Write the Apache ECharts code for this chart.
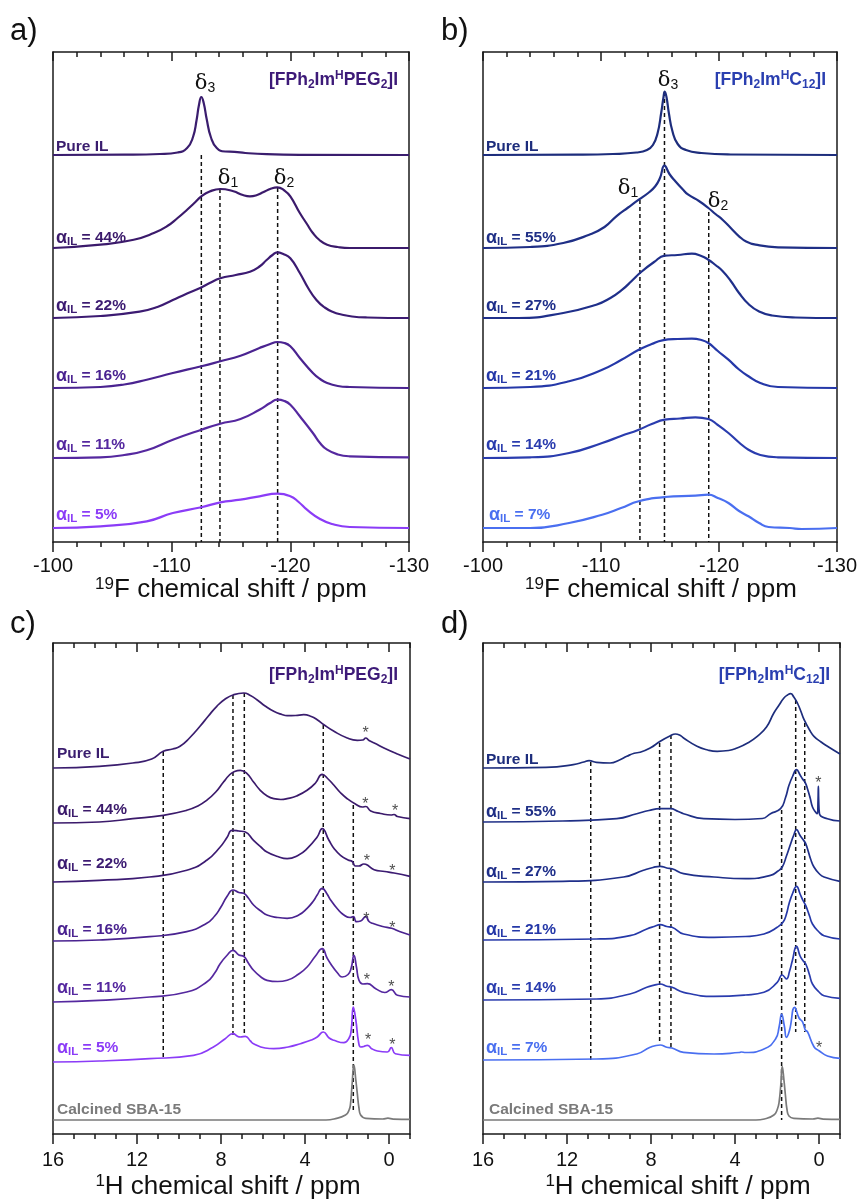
<!DOCTYPE html>
<html>
<head>
<meta charset="utf-8">
<title>NMR spectra</title>
<script src="https://cdn.jsdelivr.net/npm/echarts@6.0.0/dist/echarts.min.js"></script>
<style>
  html, body { margin: 0; padding: 0; background: #fff; }
  #main { width: 860px; height: 1200px; }
</style>
</head>
<body>
<div id="main"></div>
<script>
// ---- panel a: 19F, [FPh2ImHPEG2]I  ([ppm, intensity above baseline]) ----
var a_names = ['Pure IL', '44%', '22%', '16%', '11%', '5%'];
var a_offsets = [387, 294, 224, 154, 84, 14];
var a_pure = [[-100,0],[-106,0.3],[-109,1],[-110.5,2.5],[-111.3,7],[-111.8,18],[-112.1,35],[-112.3,50],[-112.5,58],[-112.7,52],[-112.95,36],[-113.3,18],[-113.8,7],[-114.5,3.5],[-115.3,3.2],[-116.2,2],[-118,0.8],[-121,0.2],[-130,0]];
var a_44 = [[-100,0],[-104,3.3],[-106.8,8.3],[-108.5,15],[-109.6,21.7],[-110.5,30],[-111.3,38.3],[-112,46],[-112.5,51.7],[-113.2,56.5],[-114.1,59],[-115.2,56.7],[-116,53],[-116.6,51.7],[-117.2,53],[-117.7,55.7],[-118.4,59.5],[-118.9,60.7],[-119.5,57.5],[-120,51.7],[-120.8,35],[-121.4,24],[-121.9,15],[-122.5,7.5],[-123.1,3.3],[-124,1],[-125,0],[-130,0]];
var a_22 = [[-100,0],[-104,2],[-107.3,6.3],[-108.8,11],[-110.1,18],[-111.3,24.5],[-112.4,30],[-113.2,35],[-114.1,39.7],[-115.4,43],[-116.6,46.3],[-117.4,51.5],[-118,58],[-118.5,63],[-118.9,65.7],[-119.4,64],[-120,59.7],[-120.8,45],[-121.5,30],[-122.2,18],[-122.9,10.5],[-123.6,6],[-124.3,3.5],[-125.2,1.5],[-126.5,0.5],[-130,0]];
var a_16 = [[-100,0],[-104,1],[-106,3.5],[-107.9,8.3],[-110.1,15],[-112.5,21.7],[-114.1,26.7],[-115.8,32.3],[-117.4,40],[-118.3,44],[-118.9,46],[-119.5,45],[-120,41.7],[-120.8,30],[-121.9,15],[-122.5,9],[-123.1,5],[-124,2],[-125,1],[-130,0]];
var a_11 = [[-100,0],[-104,0.7],[-106,3],[-107.9,7.7],[-110.1,18.3],[-112.5,28.3],[-114.1,34.3],[-115.8,39],[-117.4,48.3],[-118.3,55],[-118.9,58.3],[-119.5,57],[-120,53.3],[-120.8,41.7],[-121.9,25],[-122.5,15],[-123.1,8.3],[-124,3.5],[-125,1.7],[-130,0.7]];
var a_5 = [[-100,0],[-104,1.7],[-107.9,6.7],[-110.1,15],[-112.5,20.7],[-114.1,25.7],[-115.8,28.3],[-117.4,31.7],[-118.9,34.3],[-120,31.7],[-120.7,26],[-121.4,18.3],[-122.5,9],[-123.5,4],[-125,1],[-130,0]];
var a_dash = [[-112.5, 387, 0], [-114.07, 353, 0], [-118.93, 354, 0]];

// ---- panel b: 19F, [FPh2ImHC12]I ----
var b_names = ['Pure IL', '55%', '27%', '21%', '14%', '7%'];
var b_offsets = [387, 294, 224, 154, 84, 14];
var b_pure = [[-100,0],[-108,0.3],[-111,1],[-113,2.5],[-113.9,5],[-114.4,10],[-114.8,22],[-115.1,42],[-115.3,58],[-115.4,63.3],[-115.55,58],[-115.75,42],[-116.05,24],[-116.5,11],[-117.2,5],[-118.5,2],[-121,0.5],[-130,0]];
var b_55 = [[-100,0],[-104,1],[-106.8,5],[-109,13.3],[-110.3,21],[-111.3,31.7],[-112.3,40.5],[-113.2,48.3],[-114,55],[-114.6,61.7],[-115,70],[-115.38,82.3],[-115.8,74],[-116.3,66.7],[-116.9,59],[-117.4,53.3],[-118.3,47],[-119.1,40],[-119.7,34],[-120.3,28.3],[-121,20],[-121.7,11.7],[-122.3,6.5],[-123.1,3.3],[-125,0.7],[-130,0]];
var b_27 = [[-100,0],[-103,0],[-106.8,5],[-109.6,13.3],[-110.8,20],[-111.8,28.3],[-112.6,37],[-113.3,45],[-114.5,56],[-115.4,62.3],[-116.5,63],[-117.7,64.3],[-118.5,62],[-119.1,58.3],[-119.7,53],[-120.3,47],[-121,37],[-121.7,25],[-122.5,14],[-123.4,6.5],[-124.5,2.5],[-126.5,0.5],[-130,0]];
var b_21 = [[-100,0],[-104,1],[-107.3,6.7],[-110.1,18.3],[-111.7,28],[-113.2,38.3],[-114.3,44],[-115.2,47.7],[-116.5,49],[-117.7,49.3],[-118.5,48],[-119.1,45],[-119.9,37],[-120.8,28.3],[-121.7,18.5],[-122.5,11.7],[-123.5,5],[-125,1],[-130,0]];
var b_14 = [[-100,0],[-104,0.7],[-107.3,5],[-110.1,15],[-111.7,22],[-113.2,28.3],[-114.3,34],[-115.4,38.3],[-116.7,39.5],[-118,40.7],[-119.1,39],[-119.9,33],[-120.8,25],[-121.7,15.5],[-122.5,8.3],[-123.5,3],[-125,0.7],[-130,0]];
var b_7 = [[-100,0],[-104,0],[-107.3,5],[-110.1,13.3],[-111.7,20],[-113.2,26.7],[-115.4,31],[-118,32.3],[-119.1,33.3],[-119.9,30],[-120.8,25],[-121.7,17],[-122.5,11.7],[-123.4,5],[-124.2,1],[-126,0],[-127,-1],[-130,0]];
var b_dash = [[-113.3, 342, 0], [-115.38, 450, 0], [-119.13, 330, 0]];

// ---- panel c: 1H, [FPh2ImHPEG2]I ----
var c_names = ['Pure IL', '44%', '22%', '16%', '11%', '5%', 'Calcined SBA-15'];
var c_offsets = [366, 311, 252, 193, 132, 72, 14];
var c_pure = [[16,0],[13.8,1.7],[12.2,5],[11.3,9],[10.75,16.7],[10.3,19],[9.95,21.7],[9.5,30],[9,41.7],[8.6,52],[8.2,61.7],[7.8,69],[7.4,73.3],[6.92,75],[6.6,72.5],[6.29,68.3],[5.9,62],[5.49,56.7],[5.1,53.5],[4.85,52.3],[4.45,52.5],[4.06,53.3],[3.7,51.5],[3.42,48.3],[3.1,43.3],[2.62,36.7],[1.99,30],[1.51,27.7],[1.25,28],[1.11,30],[0.95,27.5],[0.6,24],[0.24,20],[-0.4,14],[-1,9]];
var c_44 = [[16,0],[13.8,1],[12.2,4.3],[10.75,7.7],[9.63,12.7],[9.1,17],[8.68,22.7],[8.25,31],[7.88,41],[7.6,48],[7.4,51],[7.08,52.7],[6.76,49.3],[6.45,41],[6.13,32.7],[5.8,27],[5.49,24.3],[5.15,23.5],[4.85,24.3],[4.4,27],[3.9,32.7],[3.5,40],[3.18,48.7],[2.9,44],[2.62,37.7],[2.3,30],[1.99,24.3],[1.6,19],[1.27,16],[1.11,16.5],[0.87,12],[0.4,9.5],[-0.1,8],[-0.24,8.5],[-0.4,6.5],[-1,4.3]];
var c_22 = [[16,0],[13.8,1.7],[11.4,5],[9.63,11.7],[8.68,21.7],[8.04,35],[7.7,45],[7.48,51.7],[7.15,51],[6.84,50],[6.45,41.7],[6.1,35],[5.81,30],[5.3,25.5],[4.85,23.3],[4.3,27],[3.9,33.3],[3.42,45],[3.18,53.3],[2.86,41.7],[2.6,33],[2.31,26.7],[1.95,22],[1.75,20.5],[1.6,16],[1.43,16],[1.2,18],[1.11,17.7],[0.71,12.3],[0.2,10.5],[-0.24,9],[-1,5.7]];
var c_16 = [[16,0],[13.8,1],[11.4,4.3],[9.63,9.3],[8.68,17.7],[8.3,25],[8.04,32.7],[7.7,45],[7.43,51],[7.15,48.5],[6.92,47.7],[6.7,43],[6.45,36],[6.1,30],[5.81,26],[5.3,23.5],[4.85,22.7],[4.3,26],[3.9,32.7],[3.6,40],[3.42,46],[3.18,52.7],[2.95,47],[2.78,41],[2.45,32],[2.15,26],[1.85,23.5],[1.7,24.5],[1.55,19.3],[1.35,20],[1.11,24.3],[0.95,19.5],[0.79,17.7],[0.3,14.5],[-0.13,12.7],[-0.5,9.5],[-1,6]];
var c_11 = [[16,0],[13.8,1.7],[11.4,5],[9.63,10],[8.68,20],[8.3,29],[8.04,38.3],[7.7,47],[7.43,51.7],[7.15,47],[6.92,45.7],[6.7,39],[6.45,31.7],[6.1,25],[5.81,21.7],[5.3,20.5],[4.85,21.7],[4.3,28],[3.9,35],[3.5,46],[3.18,53.3],[2.95,44],[2.78,38.3],[2.45,29],[2.23,25],[1.95,27.5],[1.8,34],[1.67,46.7],[1.55,35],[1.43,21.7],[1.25,18],[1.03,18.3],[0.63,13.3],[0.2,9.5],[-0.11,12.3],[-0.4,6.7],[-1,5]];
var c_5 = [[16,0],[13.8,1],[11.4,3.3],[9.31,6.7],[8.36,15],[7.8,23.3],[7.43,28.3],[7.2,25.5],[7.08,25],[6.84,25.7],[6.6,21],[6.45,18.3],[5.9,14],[5.49,13.3],[4.8,15],[4.22,18.3],[3.7,22],[3.42,25],[3.13,30],[2.85,24],[2.62,21.7],[2.15,19.3],[1.9,24],[1.8,32],[1.7,55],[1.58,42],[1.45,20],[1.35,15],[1.2,15.5],[1.03,16.7],[0.8,13],[0.55,11],[0.08,10],[-0.11,14.3],[-0.3,8.3],[-1,6.7]];
var c_sba = [[16,0],[3,0],[2.62,1],[2.07,5],[1.9,10],[1.83,16.7],[1.76,35],[1.67,55],[1.58,40],[1.51,26.7],[1.43,12],[1.35,5],[1.1,1.7],[0.3,1],[0.05,1.8],[-0.2,0.9],[-1,0.7]];
var c_dash = [[10.75, 382, 76], [7.43, 439, 96], [6.89, 441, 97], [3.13, 409, 104], [1.7, 329, 21]];
var c_stars = [[1.11, 404], [1.13, 333], [-0.29, 326], [1.06, 276], [-0.16, 266], [1.08, 218], [-0.16, 209], [1.06, 157], [-0.11, 150], [1.0, 97], [-0.16, 92]];

// ---- panel d: 1H, [FPh2ImHC12]I ----
var d_names = ['Pure IL', '55%', '27%', '21%', '14%', '7%', 'Calcined SBA-15'];
var d_offsets = [366, 312, 252, 194, 134, 74, 14];
var d_pure = [[16,0],[13,0.7],[11.7,3.3],[11.2,6],[10.95,7.3],[10.6,5.7],[9.95,5],[9.5,8],[9.15,11.7],[8.8,14.8],[8.52,15.7],[8.04,20],[7.56,26.7],[7.1,32],[6.84,34],[6.6,32.5],[6.45,30],[5.81,21.7],[5.3,18],[4.85,16.7],[4.3,17.5],[3.9,20],[3.4,25],[2.94,31.7],[2.5,41],[2.15,55],[1.9,63],[1.67,70],[1.5,73],[1.35,74.3],[1.2,71],[1.03,65],[0.85,56],[0.71,48.3],[0.45,38],[0.24,31.7],[-0.1,26],[-0.4,21.7],[-1,14]];
var d_55 = [[16,0],[12.2,1],[9.63,3.3],[8.68,8.3],[8.1,11.5],[7.56,13.3],[7.08,13.3],[6.7,10.5],[6.45,8.3],[5.49,3.3],[4,2.5],[2.7,3.5],[2.31,8.3],[1.83,13.3],[1.6,24],[1.43,36.7],[1.25,46],[1.07,52.3],[0.9,47],[0.79,43.3],[0.65,39],[0.55,33.3],[0.42,24],[0.31,15],[0.15,9.5],[0.08,8.3],[0.045,22],[0.03,35.7],[0.015,22],[-0.02,8.3],[-0.4,3.3],[-1,1]];
var d_27 = [[16,0],[12.2,0.7],[9.31,5],[8.36,11.7],[7.9,14.5],[7.56,15.7],[7.25,14],[7,13.3],[6.45,8.3],[5,5],[3.5,3.3],[2.31,6.7],[1.95,11],[1.75,15],[1.55,26],[1.35,38.3],[1.2,47],[1.07,52.3],[0.9,46.5],[0.79,43.3],[0.65,39],[0.55,33.3],[0.4,23],[0.24,15],[0,8.5],[-0.24,5],[-1,0.7]];
var d_21 = [[16,0],[10.6,1],[9,4.3],[8.2,11],[7.85,13.5],[7.56,15.3],[7.25,13.5],[7,12.7],[6.45,6],[5,2.7],[3.5,3.5],[2.62,6],[1.99,12.7],[1.7,18.3],[1.55,26],[1.43,36],[1.25,47],[1.07,53.7],[0.9,46],[0.75,39],[0.63,34.3],[0.45,24],[0.31,16],[0,8],[-0.24,4.3],[-1,1]];
var d_14 = [[16,0],[10.6,1],[9,6],[8.2,12.7],[7.85,14.8],[7.56,16],[7.25,13.8],[7,12.7],[6.45,7.7],[5,3.7],[3.5,5],[2.62,7.7],[1.99,17.7],[1.75,25],[1.55,21],[1.4,29],[1.27,39.3],[1.07,53.7],[0.9,44],[0.75,39],[0.63,36],[0.45,25],[0.31,16],[0,8],[-0.24,4.3],[-1,1.7]];
var d_7 = [[16,0],[10.6,1],[8.68,6],[8.04,12.7],[7.56,15],[7.25,12.8],[7,12],[6.45,7.7],[5,6],[3.8,7.5],[3.7,8],[3.5,7.5],[2.62,11],[2.07,21],[1.9,33],[1.78,46],[1.65,34],[1.55,22.7],[1.4,30],[1.16,52.7],[0.95,42],[0.79,38.3],[0.65,30],[0.55,28.3],[0.24,13.3],[0,9.3],[-0.4,4],[-1,1.7]];
var d_sba = [[16,0],[3,0],[2.6,1],[2.15,5],[1.98,11],[1.9,18],[1.82,35],[1.75,53.3],[1.67,40],[1.6,25],[1.52,10],[1.43,4],[1.2,1.7],[0.3,1],[0.05,1.8],[-0.2,0.9],[-1,0.7]];
var d_dash = [[10.87, 372, 74], [7.59, 391, 91], [7.05, 399, 86], [1.78, 324, 14], [1.11, 434, 102], [0.68, 411, 102]];
var d_stars = [[0.03, 354], [0.0, 89]];

var purples = ['#3a1d6e', '#3b1a6b', '#3c1b72', '#4a2390', '#55289f', '#8b3cf7', '#7a7a7a'];
var blues = ['#1d2d7c', '#1f2f86', '#1f2f8a', '#2538a8', '#2a3cae', '#4a6ff0', '#7a7a7a'];

var FONT = 'Liberation Sans, Arial, sans-serif';
var grids = [
  { left: 53, top: 52, width: 356, height: 490 },
  { left: 483, top: 52, width: 356, height: 490 },
  { left: 53, top: 643, width: 357, height: 491 },
  { left: 483, top: 643, width: 357, height: 491 }
];

var xAxes = [], yAxes = [], series = [];
var boxLine = { show: true, onZero: false, lineStyle: { color: '#1a1a1a', width: 1.5 } };
var tickStyle = { color: '#1a1a1a', width: 1.5 };

function fAxes(g) {
  var main = xAxes.length;
  xAxes.push({
    type: 'value', gridIndex: g, position: 'bottom', min: -130, max: -100, interval: 10, inverse: true,
    axisLine: boxLine, axisTick: { length: 10, lineStyle: tickStyle },
    minorTick: { show: true, splitNumber: 5, length: 5, lineStyle: tickStyle },
    axisLabel: { fontSize: 20, color: '#111', fontFamily: FONT, margin: 14 }, splitLine: { show: false }
  });
  xAxes.push({
    type: 'value', gridIndex: g, position: 'top', min: -130, max: -100, interval: 10, inverse: true,
    axisLine: boxLine, axisTick: { inside: true, length: 9, lineStyle: tickStyle },
    minorTick: { show: true, splitNumber: 5, length: 5, lineStyle: tickStyle },
    axisLabel: { show: false }, splitLine: { show: false }
  });
  return main;
}

function hAxes(g) {
  var main = xAxes.length;
  var major = [0, 4, 8, 12, 16];
  xAxes.push({
    type: 'value', gridIndex: g, position: 'bottom', min: -1, max: 16, inverse: true,
    axisLine: boxLine, axisTick: { length: 10, customValues: major, lineStyle: tickStyle },
    axisLabel: { fontSize: 20, color: '#111', fontFamily: FONT, margin: 16, customValues: major },
    splitLine: { show: false }
  });
  xAxes.push({
    type: 'value', gridIndex: g, position: 'bottom', min: -1, max: 16, interval: 1, inverse: true,
    axisLine: { show: false, onZero: false }, axisTick: { length: 5, lineStyle: tickStyle },
    axisLabel: { show: false }, splitLine: { show: false }
  });
  xAxes.push({
    type: 'value', gridIndex: g, position: 'top', min: -1, max: 16, inverse: true,
    axisLine: boxLine, axisTick: { inside: true, length: 9, customValues: major, lineStyle: tickStyle },
    axisLabel: { show: false }, splitLine: { show: false }
  });
  xAxes.push({
    type: 'value', gridIndex: g, position: 'top', min: -1, max: 16, interval: 1, inverse: true,
    axisLine: { show: false, onZero: false }, axisTick: { inside: true, length: 5, lineStyle: tickStyle },
    axisLabel: { show: false }, splitLine: { show: false }
  });
  return main;
}

function yPair(g, h) {
  var idx = yAxes.length;
  yAxes.push({ type: 'value', gridIndex: g, position: 'left', min: 0, max: h,
    axisLine: boxLine, axisTick: { show: false }, axisLabel: { show: false }, splitLine: { show: false } });
  yAxes.push({ type: 'value', gridIndex: g, position: 'right', min: 0, max: h,
    axisLine: boxLine, axisTick: { show: false }, axisLabel: { show: false }, splitLine: { show: false } });
  return idx;
}

function addTraces(xi, yi, traces, offsets, colors, width) {
  traces.forEach(function (tr, i) {
    series.push({
      type: 'line', xAxisIndex: xi, yAxisIndex: yi, showSymbol: false, symbol: 'none',
      smooth: 0.5, silent: true, z: 3,
      lineStyle: { color: colors[i], width: width },
      data: tr.map(function (p) { return [p[0], p[1] + offsets[i]]; })
    });
  });
}

function addDashes(xi, yi, dashes) {
  dashes.forEach(function (d) {
    series.push({
      type: 'line', xAxisIndex: xi, yAxisIndex: yi, showSymbol: false, symbol: 'none', silent: true, z: 2,
      lineStyle: { color: '#111', width: 1.5, type: [4, 3] },
      data: [[d[0], d[1]], [d[0], d[2]]]
    });
  });
}

function addStars(xi, yi, stars) {
  series.push({
    type: 'scatter', xAxisIndex: xi, yAxisIndex: yi, symbolSize: 0, silent: true, z: 4,
    data: stars,
    label: { show: true, position: 'inside', formatter: '*', fontSize: 16, color: '#222', fontFamily: FONT, offset: [0, 4] }
  });
}

var xa = fAxes(0), ya = yPair(0, 490);
addTraces(xa, ya, [a_pure, a_44, a_22, a_16, a_11, a_5], a_offsets, purples, 2.2);
addDashes(xa, ya, a_dash);

var xb = fAxes(1), yb = yPair(1, 490);
addTraces(xb, yb, [b_pure, b_55, b_27, b_21, b_14, b_7], b_offsets, blues, 2.2);
addDashes(xb, yb, b_dash);

var xc = hAxes(2), yc = yPair(2, 491);
addTraces(xc, yc, [c_pure, c_44, c_22, c_16, c_11, c_5, c_sba], c_offsets, purples, 1.7);
addDashes(xc, yc, c_dash);
addStars(xc, yc, c_stars);

var xd = hAxes(3), yd = yPair(3, 491);
addTraces(xd, yd, [d_pure, d_55, d_27, d_21, d_14, d_7, d_sba], d_offsets, blues, 1.7);
addDashes(xd, yd, d_dash);
addStars(xd, yd, d_stars);

// ---- text ----
var graphics = [];
function txt(x, y, text, rich, align, fill) {
  graphics.push({ type: 'text', x: x, y: y, silent: true, z: 10,
    style: { text: text, rich: rich, align: align || 'left', verticalAlign: 'middle', fill: fill || '#111', fontFamily: FONT } });
}
function traceLabel(x, y, name, color) {
  var rich = {
    a: { fontSize: 18, fontWeight: 'bold', fill: color, fontFamily: FONT, lineHeight: 19, verticalAlign: 'middle' },
    m: { fontSize: 15.5, fontWeight: 'bold', fill: color, fontFamily: FONT, lineHeight: 19, verticalAlign: 'middle' },
    s: { fontSize: 11.5, fontWeight: 'bold', fill: color, fontFamily: FONT, lineHeight: 8, verticalAlign: 'bottom' }
  };
  if (name.indexOf('%') > 0) txt(x, y, '{a|α}{s|IL}{m| = ' + name + '}', rich, 'left', color);
  else txt(x, y, '{m|' + name + '}', rich, 'left', color);
}
function compound(xr, y, tail, color) {
  var rich = {
    m: { fontSize: 17.5, fontWeight: 'bold', fill: color, fontFamily: FONT, lineHeight: 21, verticalAlign: 'middle' },
    s: { fontSize: 12, fontWeight: 'bold', fill: color, fontFamily: FONT, lineHeight: 8, verticalAlign: 'bottom' },
    p: { fontSize: 12, fontWeight: 'bold', fill: color, fontFamily: FONT, lineHeight: 8, verticalAlign: 'top' }
  };
  txt(xr, y, '{m|[FPh}{s|2}{m|Im}{p|H}' + tail + '{m|]I}', rich, 'right', color);
}
function delta(x, y, n) {
  var rich = {
    d: { fontSize: 21, fill: '#111', fontFamily: 'DejaVu Serif, serif', lineHeight: 22, verticalAlign: 'middle' },
    s: { fontSize: 14, fill: '#111', fontFamily: FONT, lineHeight: 9, verticalAlign: 'bottom' }
  };
  txt(x, y, '{d|δ}{s|' + n + '}', rich, 'center');
}
function axisName(x, y, iso, el) {
  var rich = {
    m: { fontSize: 26, fill: '#111', fontFamily: FONT, lineHeight: 29, verticalAlign: 'middle' },
    p: { fontSize: 17, fill: '#111', fontFamily: FONT, lineHeight: 12, verticalAlign: 'top' }
  };
  txt(x, y, '{p|' + iso + '}{m|' + el + ' chemical shift / ppm}', rich, 'center');
}
function letter(x, y, t) {
  graphics.push({ type: 'text', x: x, y: y, silent: true,
    style: { text: t, fontSize: 31, fill: '#111', fontFamily: FONT, align: 'left', verticalAlign: 'middle' } });
}

letter(10, 31, 'a)'); letter(441, 31, 'b)'); letter(10, 624, 'c)'); letter(441, 624, 'd)');
axisName(231, 590, '19', 'F'); axisName(661, 590, '19', 'F');
axisName(228, 1187, '1', 'H'); axisName(678, 1187, '1', 'H');

compound(398, 80, '{m|PEG}{s|2}', '#3d1a78');
compound(826, 80, '{m|C}{s|12}', '#2a3fb0');
compound(398, 675, '{m|PEG}{s|2}', '#3d1a78');
compound(830, 675, '{m|C}{s|12}', '#2a3fb0');

delta(205, 84, 3); delta(228, 179, 1); delta(284, 179, 2);
delta(668, 81, 3); delta(628, 189, 1); delta(718, 202, 2);

var aY = [147, 238, 306, 376, 445, 515];
a_names.forEach(function (n, i) { traceLabel(56, aY[i], n, purples[i]); });
var bY = [147, 238, 306, 376, 445, 515];
b_names.forEach(function (n, i) { traceLabel(i === 5 ? 489 : 486, bY[i], n, blues[i]); });
var cY = [754, 810, 864, 930, 988, 1048, 1110];
c_names.forEach(function (n, i) { traceLabel(57, cY[i], n, purples[i]); });
var dY = [760, 812, 872, 930, 988, 1048, 1110];
d_names.forEach(function (n, i) { traceLabel(i === 6 ? 489 : 486, dY[i], n, blues[i]); });

var chart = echarts.init(document.getElementById('main'), null, { renderer: 'canvas' });
chart.setOption({
  animation: false,
  backgroundColor: '#fff',
  grid: grids,
  xAxis: xAxes,
  yAxis: yAxes,
  series: series,
  graphic: graphics
});
</script>
</body>
</html>
